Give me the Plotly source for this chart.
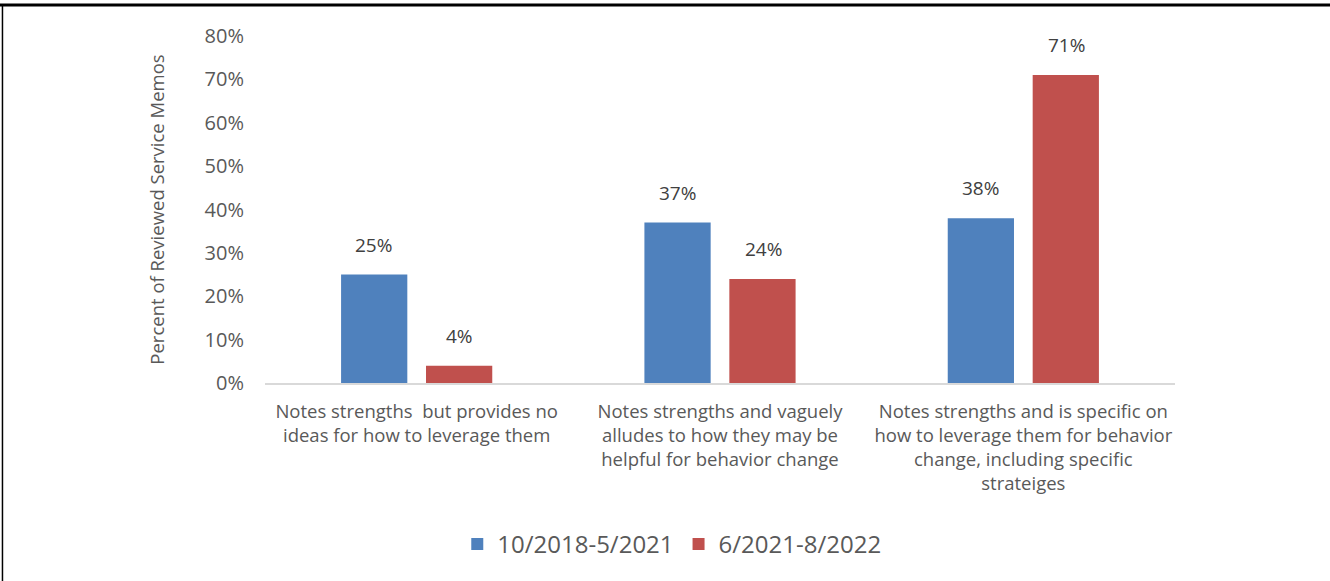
import plotly.graph_objects as go

categories = [
    "Notes strengths  but provides no<br>ideas for how to leverage them",
    "Notes strengths and vaguely<br>alludes to how they may be<br>helpful for behavior change",
    "Notes strengths and is specific on<br>how to leverage them for behavior<br>change, including specific<br>strateiges",
]
series_names = ["10/2018-5/2021", "6/2021-8/2022"]
values_early = [0.25, 0.37, 0.38]
values_late = [0.04, 0.24, 0.71]
y_ticks = [0, 0.1, 0.2, 0.3, 0.4, 0.5, 0.6, 0.7, 0.8]

colors = ["#4F81BD", "#C0504D"]
text_color = "#595959"
font_family = "Open Sans, Lato, sans-serif"

fig = go.Figure()
for name, vals, col in zip(series_names, [values_early, values_late], colors):
    fig.add_trace(go.Bar(
        x=categories, y=vals, name=name,
        marker=dict(color=col, line=dict(width=0)),
    ))

# value labels floating above each bar
for offset, vals in zip([-43, 43], [values_early, values_late]):
    for cat, v in zip(categories, vals):
        fig.add_annotation(x=cat, y=v, xref="x", yref="y", text=f"{v:.0%}",
                           showarrow=False, xshift=offset, yshift=15,
                           yanchor="bottom",
                           font=dict(size=19, color="#404040", family=font_family))

fig.update_layout(
    width=1330, height=581,
    margin=dict(l=265, r=155, t=36, b=198),
    paper_bgcolor="white", plot_bgcolor="white",
    barmode="group", bargap=0.44, bargroupgap=0.22,
    font=dict(family=font_family, color=text_color),
    showlegend=True,
    legend=dict(orientation="h", x=0.447, xanchor="center", y=-0.4, yanchor="top",
                font=dict(size=24, color=text_color), itemwidth=30,
                traceorder="normal"),
    xaxis=dict(showline=True, linecolor="#D9D9D9", linewidth=1.5, ticks="",
               ticklabelstandoff=11,
               tickfont=dict(size=18.5, color=text_color), showgrid=False),
    yaxis=dict(range=[0, 0.8], tickvals=y_ticks, tickformat=".0%",
               showgrid=False, zeroline=False, showline=False, ticks="",
               ticklabelstandoff=20,
               tickfont=dict(size=20, color=text_color),
               title=dict(text="Percent of Reviewed Service Memos",
                          font=dict(size=18.5, color=text_color), standoff=35)),
)

# outer frame line along the top and left edge
fig.add_shape(type="line", xref="paper", yref="paper", x0=-0.3, x1=1.2,
              y0=1.089, y1=1.089, line=dict(color="black", width=3))
fig.add_shape(type="line", xref="paper", yref="paper", x0=-0.2885, x1=-0.2885,
              y0=1.089, y1=-0.6, line=dict(color="black", width=1.5))

fig.write_html("out.html")
